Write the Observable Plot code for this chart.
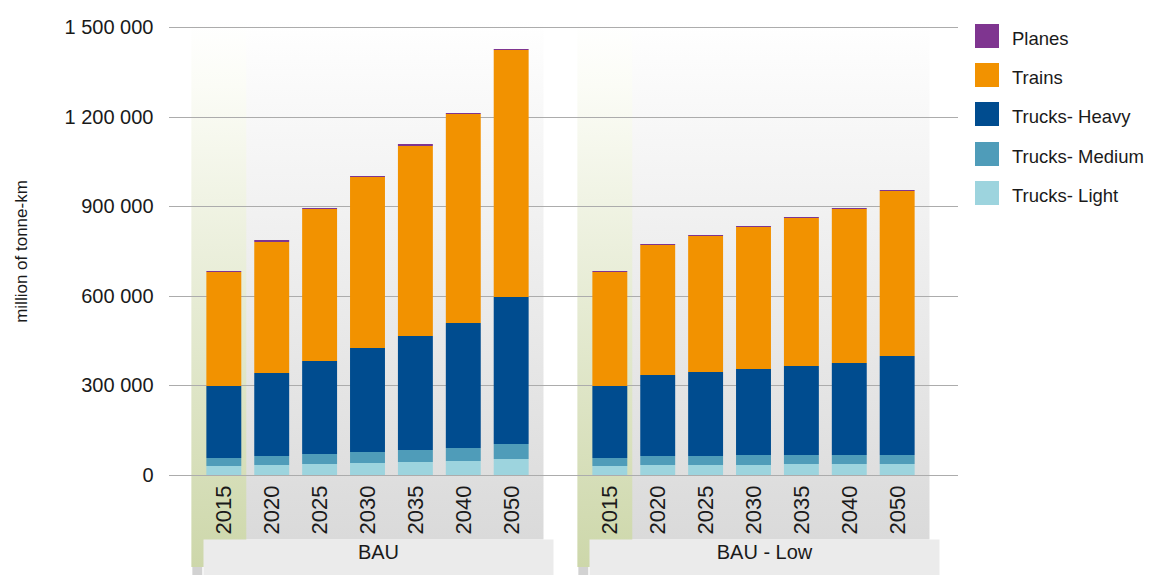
<!DOCTYPE html>
<html>
<head>
<meta charset="utf-8">
<script src="https://cdn.jsdelivr.net/npm/d3@7"></script>
<script src="https://cdn.jsdelivr.net/npm/@observablehq/plot@0.6"></script>
<style>
  html, body { margin: 0; padding: 0; background: #fff; }
  #wrap { position: relative; width: 1150px; height: 575px; font-family: "Liberation Sans", Arial, sans-serif; color: #1a1a1a; }
  #legend { position: absolute; left: 975px; top: 24px; }
  .row { position: absolute; left: 0; height: 24px; white-space: nowrap; }
  .sw { position: absolute; left: 0; top: 0; width: 24px; height: 24px; }
  .lb { position: absolute; left: 37px; top: 3px; line-height: 24px; font-size: 18.5px; }
  svg [aria-label="y-axis label"] text { font-size: 17px; font-family: "Liberation Sans Narrow", "Liberation Sans", Arial, sans-serif; }
</style>
</head>
<body>
<div id="wrap"><div id="legend"></div></div>
<script>
const scenarios = ["BAU", "BAU - Low"];
const years = ["2015", "2020", "2025", "2030", "2035", "2040", "2050"];
const modes = ["Trucks- Light", "Trucks- Medium", "Trucks- Heavy", "Trains", "Planes"];
const modeColors = ["#9dd4de", "#4f9cb9", "#004c8f", "#f29200", "#7f3590"];
const legendOrder = ["Planes", "Trains", "Trucks- Heavy", "Trucks- Medium", "Trucks- Light"];
const yTicks = [0, 300000, 600000, 900000, 1200000, 1500000];

// million of tonne-km
const bauLight  = [30000, 33000, 37000, 40000, 43000, 47000, 54000];
const bauMedium = [27000, 30000, 33000, 37000, 41000, 43000, 50000];
const bauHeavy  = [241000, 278000, 312000, 348000, 381000, 419000, 492000];
const bauTrains = [382000, 439000, 507000, 573000, 636000, 700000, 827000];
const bauPlanes = [3000, 6000, 4000, 3000, 6000, 3000, 3000];

const lowLight  = [30000, 33000, 33000, 33000, 37000, 37000, 37000];
const lowMedium = [27000, 30000, 30000, 34000, 30000, 30000, 30000];
const lowHeavy  = [241000, 272000, 282000, 288000, 298000, 308000, 331000];
const lowTrains = [382000, 434000, 455000, 475000, 495000, 515000, 553000];
const lowPlanes = [3000, 3000, 4000, 4000, 4000, 4000, 3000];

const series = {
  "BAU": [bauLight, bauMedium, bauHeavy, bauTrains, bauPlanes],
  "BAU - Low": [lowLight, lowMedium, lowHeavy, lowTrains, lowPlanes]
};

const data = [];
for (const s of scenarios) {
  years.forEach((yr, i) => {
    modes.forEach((m, k) => {
      data.push({scenario: s, year: yr, mode: m, value: series[s][k][i]});
    });
  });
}

const firstYear = scenarios.map(s => ({scenario: s, year: years[0]}));
const fmt = d => d3.format(",")(d).replace(/,/g, " ");

const chart = Plot.plot({
  width: 1150,
  height: 575,
  marginLeft: 192,
  marginRight: 221,
  marginTop: 27,
  marginBottom: 100,
  style: {fontFamily: "Liberation Sans, Arial, sans-serif", fontSize: "20px", color: "#1a1a1a", background: "transparent"},
  fx: {domain: scenarios, paddingInner: 35 / 386, paddingOuter: 0, axis: null, round: false},
  x: {domain: years, paddingInner: 13 / 48, paddingOuter: 0.3, round: false},
  y: {domain: [0, 1500000], round: true},
  color: {domain: modes, range: modeColors},
  marks: [
    Plot.frame({fill: "url(#gPanel)", stroke: null, insetTop: -7, insetBottom: -64}),
    Plot.barY(firstYear, {fx: "scenario", x: "year", y1: 0, y2: 1500000, fill: "url(#gGreen)",
      insetLeft: -15, insetRight: -5, insetTop: -7, insetBottom: -92}),
    Plot.barY(firstYear, {fx: "scenario", x: "year", y1: 0, y2: 0, fill: "#d2d2d2",
      insetLeft: -14, insetRight: 39, insetTop: 92, insetBottom: -100}),
    Plot.frame({fill: "#ebebeb", stroke: null, insetTop: 512, insetBottom: -100, insetLeft: 11, insetRight: -10}),
    Plot.ruleY(yTicks, {stroke: "#acacac", strokeWidth: 1.2, insetLeft: -23, insetRight: -29}),
    Plot.barY(data, {fx: "scenario", x: "year", y: "value", fill: "mode"}),
    Plot.text(scenarios, {fx: d => d, text: d => d, frameAnchor: "bottom", dy: 83, dx: 10.5, fontSize: 20, fill: "#1a1a1a"}),
    Plot.axisY(yTicks, {tickSize: 0, tickPadding: 39, tickFormat: fmt, fontSize: 20,
      label: "million of tonne-km", labelAnchor: "center", labelArrow: "none", labelOffset: 178}),
    Plot.axisX({tickRotate: -90, tickSize: 0, tickPadding: 10, fontSize: 22, label: null})
  ]
});

const ns = "http://www.w3.org/2000/svg";
const defs = document.createElementNS(ns, "defs");
defs.innerHTML = `
  <linearGradient id="gPanel" x1="0" y1="0" x2="0" y2="1">
    <stop offset="0" stop-color="#ffffff"/>
    <stop offset="0.1" stop-color="#fbfbfb"/>
    <stop offset="1" stop-color="#dadada"/>
  </linearGradient>
  <linearGradient id="gGreen" x1="0" y1="0" x2="0" y2="1">
    <stop offset="0" stop-color="#ffffff"/>
    <stop offset="0.12" stop-color="#fbfcf6"/>
    <stop offset="1" stop-color="#cdd7aa"/>
  </linearGradient>`;
chart.prepend(defs);
chart.style.position = "absolute";
chart.style.left = "0";
chart.style.top = "0";
const wrap = document.getElementById("wrap");
wrap.prepend(chart);

const legend = document.getElementById("legend");
legendOrder.forEach((m, i) => {
  const row = document.createElement("div");
  row.className = "row";
  row.style.top = (i * 39.2) + "px";
  const sw = document.createElement("div");
  sw.className = "sw";
  sw.style.background = modeColors[modes.indexOf(m)];
  const lb = document.createElement("div");
  lb.className = "lb";
  lb.textContent = m;
  row.appendChild(sw);
  row.appendChild(lb);
  legend.appendChild(row);
});
</script>
</body>
</html>
